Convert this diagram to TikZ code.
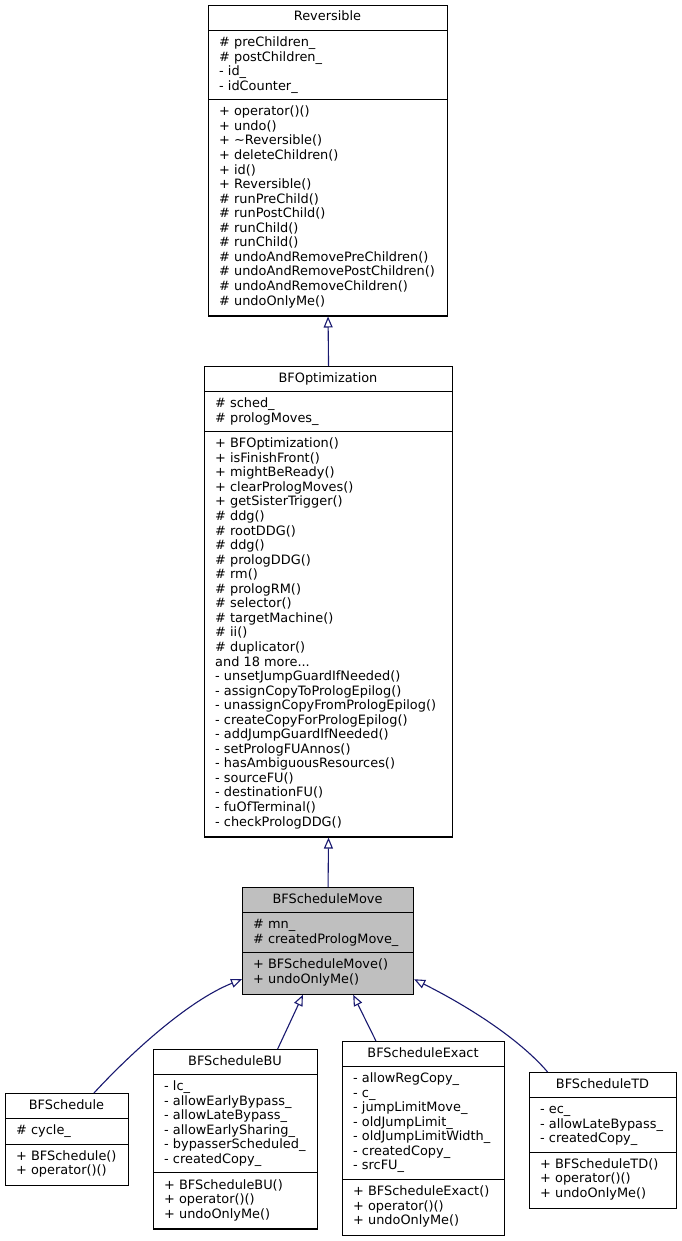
\documentclass[tikz,border=0pt]{standalone}
\usepackage{fontspec}
\setmainfont{DejaVu Sans}
\usetikzlibrary{arrows.meta}

\definecolor{edgeblue}{HTML}{191970}
\definecolor{focusgray}{HTML}{BFBFBF}

\tikzset{
  classbox/.style={draw=black, line width=1.1pt, anchor=north west, inner sep=0pt, classfill},
  classfill/.style={},
  classline/.style={draw=black, line width=1.1pt},
  classtext/.style={font=\fontsize{12.9}{14.55}\selectfont, inner sep=0pt},
  inherit/.style={draw=edgeblue, line width=1.1pt, -{Triangle[open, length=11pt, width=9pt]}},
}

% #1 name, #2 left, #3 top, #4 width, #5/#6 number of attribute/operation lines,
% #7 title, #8 attributes, #9 operations
\newcommand\umlclass[9]{%
  \pgfmathsetmacro\sepA{#3+25.5}%
  \pgfmathsetmacro\sepB{\sepA+#5*14.55+11}%
  \pgfmathsetmacro\boxht{\sepB+#6*14.55+12-#3}%
  \node[classbox, minimum width=#4pt, minimum height=\boxht pt] (#1) at (#2,#3) {};
  \draw[classline] (#2,\sepA) -- +(#4,0) (#2,\sepB) -- +(#4,0);
  \node[classtext, anchor=base] (#1-name) at (#2+#4/2,#3+16) {#7};
  \node[classtext, anchor=north west, align=left] (#1-attr) at (#2+11,\sepA+5.8) {\strut#8};
  \node[classtext, anchor=north west, align=left] (#1-ops) at (#2+11,\sepB+5.8) {\strut#9};
}

\begin{document}
\begin{tikzpicture}[x=1pt, y=-1pt]
  \fill [white] (0,0) rectangle (682,1241);

  \umlclass{rev}{208}{5}{239}{4}{14}{Reversible}
  {\# preChildren\_\\\# postChildren\_\\- id\_\\- idCounter\_}
  {+ operator()()\\+ undo()\\+ \textasciitilde Reversible()\\+ deleteChildren()\\+ id()\\+ Reversible()\\%
   \# runPreChild()\\\# runPostChild()\\\# runChild()\\\# runChild()\\\# undoAndRemovePreChildren()\\%
   \# undoAndRemovePostChildren()\\\# undoAndRemoveChildren()\\\# undoOnlyMe()}

  \umlclass{bfo}{204}{366}{248}{2}{27}{BFOptimization}
  {\# sched\_\\\# prologMoves\_}
  {+ BFOptimization()\\+ isFinishFront()\\+ mightBeReady()\\+ clearPrologMoves()\\+ getSisterTrigger()\\%
   \# ddg()\\\# rootDDG()\\\# ddg()\\\# prologDDG()\\\# rm()\\\# prologRM()\\\# selector()\\%
   \# targetMachine()\\\# ii()\\\# duplicator()\\and 18 more...\\- unsetJumpGuardIfNeeded()\\%
   - assignCopyToPrologEpilog()\\- unassignCopyFromPrologEpilog()\\- createCopyForPrologEpilog()\\%
   - addJumpGuardIfNeeded()\\- setPrologFUAnnos()\\- hasAmbiguousResources()\\- sourceFU()\\%
   - destinationFU()\\- fuOfTerminal()\\- checkPrologDDG()}

  \begin{scope}[classfill/.style={fill=focusgray}]
    \umlclass{bfsm}{242}{887}{171}{2}{2}{BFScheduleMove}
    {\# mn\_\\\# createdPrologMove\_}
    {+ BFScheduleMove()\\+ undoOnlyMe()}
  \end{scope}

  \umlclass{bfs}{5}{1093}{123}{1}{2}{BFSchedule}
  {\# cycle\_}
  {+ BFSchedule()\\+ operator()()}

  \umlclass{bu}{153}{1049}{164}{6}{3}{BFScheduleBU}
  {- lc\_\\- allowEarlyBypass\_\\- allowLateBypass\_\\- allowEarlySharing\_\\- bypasserScheduled\_\\- createdCopy\_}
  {+ BFScheduleBU()\\+ operator()()\\+ undoOnlyMe()}

  \umlclass{ex}{342}{1041}{162}{7}{3}{BFScheduleExact}
  {- allowRegCopy\_\\- c\_\\- jumpLimitMove\_\\- oldJumpLimit\_\\- oldJumpLimitWidth\_\\- createdCopy\_\\- srcFU\_}
  {+ BFScheduleExact()\\+ operator()()\\+ undoOnlyMe()}

  \umlclass{td}{529}{1072}{147}{3}{3}{BFScheduleTD}
  {- ec\_\\- allowLateBypass\_\\- createdCopy\_}
  {+ BFScheduleTD()\\+ operator()()\\+ undoOnlyMe()}

  % inheritance
  \draw [inherit] (bfo.north) -- (rev.south);
  \draw [inherit] (bfsm.north) -- (bfo.south);
  \draw [inherit] (bfs.60) .. controls +(35,-38) and +(-55,22) .. (bfsm.204);
  \draw [inherit] (bu.65) -- (bfsm.245);
  \draw [inherit] (ex.116) -- (bfsm.295);
  \draw [inherit] (td.129) .. controls +(-30,-35) and +(50,25) .. (bfsm.336);
\end{tikzpicture}
\end{document}
